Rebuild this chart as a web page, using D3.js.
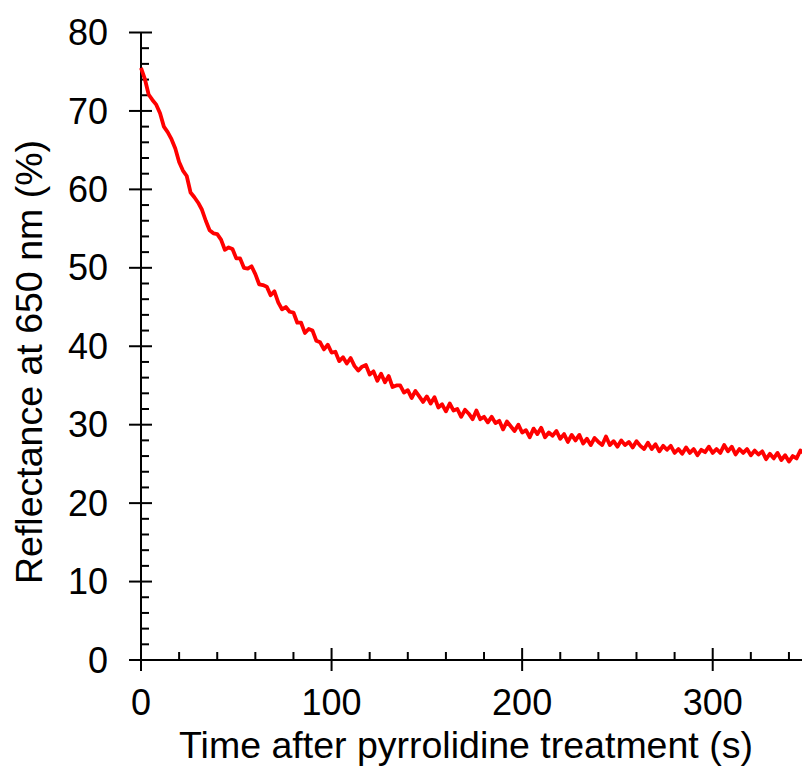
<!doctype html>
<html lang="en">
<head>
  <meta charset="utf-8">
  <title>Reflectance at 650 nm after pyrrolidine treatment</title>
  <script src="https://d3js.org/d3.v7.min.js"></script>
  <style>
    body { margin: 0; background: #fff; }
    svg { display: block; }
    .tick-label, .axis-title {
      font-family: "Liberation Sans", Arial, sans-serif;
      fill: #000;
    }
    .tick-label { font-size: 36px; }
    .axis-title { font-size: 37.5px; }
    .axis-line, .tick { stroke: #000; stroke-width: 2; fill: none; }
    .trace { fill: none; stroke: #ff0000; stroke-width: 3.8; stroke-linejoin: round; }
  </style>
</head>
<body>
  <div id="chart"></div>
  <script>
// time axis (s), one reading every 2 s
const times = d3.range(0, 349, 2);

// reflectance readings (%)
const reflectance = [
  75.5, 74.1, 72.1, 71.4, 70.8, 69.7, 68.0, 67.3, 66.4, 65.2,
  63.5, 62.4, 61.7, 59.6, 59.0, 58.3, 57.4, 56.0, 54.8, 54.4,
  54.3, 53.6, 52.3, 52.6, 52.4, 51.2, 51.2, 50.0, 49.9, 50.2,
  49.2, 47.9, 47.8, 47.6, 46.5, 47.0, 45.6, 44.7, 45.0, 44.4,
  44.3, 43.0, 43.0, 41.7, 42.2, 42.0, 40.7, 40.5, 39.6, 40.2,
  39.2, 39.3, 38.1, 38.6, 37.8, 38.5, 37.5, 36.9, 37.4, 37.6,
  36.4, 36.8, 35.6, 36.5, 35.4, 36.2, 34.8, 35.0, 35.0, 34.1,
  34.4, 33.4, 34.3, 33.6, 32.9, 33.6, 32.7, 33.5, 32.2, 32.6,
  31.7, 32.7, 31.8, 32.0, 31.0, 31.9, 31.4, 30.7, 31.8, 30.7,
  31.0, 30.3, 31.0, 30.2, 30.5, 29.4, 30.4, 29.8, 29.2, 30.0,
  29.0, 29.3, 28.4, 29.5, 28.8, 29.6, 28.4, 29.0, 28.6, 29.2,
  28.2, 28.8, 27.8, 28.7, 28.0, 28.7, 27.6, 28.2, 27.4, 28.3,
  27.8, 27.4, 28.5, 27.4, 27.9, 27.2, 28.0, 27.4, 27.8, 27.1,
  27.9, 27.3, 26.9, 27.7, 26.9, 27.5, 26.6, 27.3, 26.8, 27.3,
  26.4, 26.9, 26.3, 27.1, 26.4, 26.9, 26.1, 26.8, 26.5, 27.2,
  26.4, 26.9, 26.4, 27.4, 26.6, 27.2, 26.2, 26.9, 26.4, 26.9,
  26.1, 26.7, 26.2, 26.6, 25.6, 26.3, 25.7, 26.4, 25.5, 26.1,
  25.3, 26.0, 25.7, 26.7, 26.3
];

// tick values
const xMajor = [0, 100, 200, 300];
const xMinor = [20, 40, 60, 80, 120, 140, 160, 180, 220, 240, 260, 280, 320, 340];
const yMajor = [0, 10, 20, 30, 40, 50, 60, 70, 80];
const yMinor = d3.range(2, 80, 2).filter(v => v % 10 !== 0);

const width = 802;
const height = 769;

const svg = d3.select('#chart')
  .append('svg')
  .attr('width', width)
  .attr('height', height);

const x = d3.scaleLinear().domain([0, 350]).range([141, 808]);
const y = d3.scaleLinear().domain([0, 80]).range([660, 32.5]);

// axis lines
svg.append('line')
  .attr('class', 'axis-line')
  .attr('x1', x(0)).attr('x2', x(0))
  .attr('y1', y(80)).attr('y2', y(0) + 11);

svg.append('line')
  .attr('class', 'axis-line')
  .attr('x1', x(0) - 12).attr('x2', width)
  .attr('y1', y(0)).attr('y2', y(0));

// y ticks: major cross the axis, minor point inward
svg.append('g').selectAll('line')
  .data(yMajor)
  .join('line')
  .attr('class', 'tick')
  .attr('x1', x(0) - 12).attr('x2', x(0) + 11)
  .attr('y1', d => y(d)).attr('y2', d => y(d));

svg.append('g').selectAll('line')
  .data(yMinor)
  .join('line')
  .attr('class', 'tick')
  .attr('x1', x(0)).attr('x2', x(0) + 8)
  .attr('y1', d => y(d)).attr('y2', d => y(d));

svg.append('g').selectAll('text')
  .data(yMajor)
  .join('text')
  .attr('class', 'tick-label')
  .attr('x', 108)
  .attr('y', d => y(d))
  .attr('dy', '0.35em')
  .attr('text-anchor', 'end')
  .text(d => d);

// x ticks
svg.append('g').selectAll('line')
  .data(xMajor.filter(d => d > 0))
  .join('line')
  .attr('class', 'tick')
  .attr('x1', d => x(d)).attr('x2', d => x(d))
  .attr('y1', y(0) - 12).attr('y2', y(0) + 11);

svg.append('g').selectAll('line')
  .data(xMinor)
  .join('line')
  .attr('class', 'tick')
  .attr('x1', d => x(d)).attr('x2', d => x(d))
  .attr('y1', y(0)).attr('y2', y(0) - 8);

svg.append('g').selectAll('text')
  .data(xMajor)
  .join('text')
  .attr('class', 'tick-label')
  .attr('x', d => x(d))
  .attr('y', 715)
  .attr('text-anchor', 'middle')
  .text(d => d);

// axis titles
svg.append('text')
  .attr('class', 'axis-title')
  .attr('x', 466)
  .attr('y', 758)
  .attr('text-anchor', 'middle')
  .text('Time after pyrrolidine treatment (s)');

svg.append('text')
  .attr('class', 'axis-title')
  .attr('transform', 'translate(42,362) rotate(-90)')
  .attr('text-anchor', 'middle')
  .text('Reflectance at 650 nm (%)');

// the trace
const line = d3.line()
  .x((d, i) => x(times[i]))
  .y(d => y(d));

svg.append('path')
  .datum(reflectance)
  .attr('class', 'trace')
  .attr('d', line);
  </script>
</body>
</html>
